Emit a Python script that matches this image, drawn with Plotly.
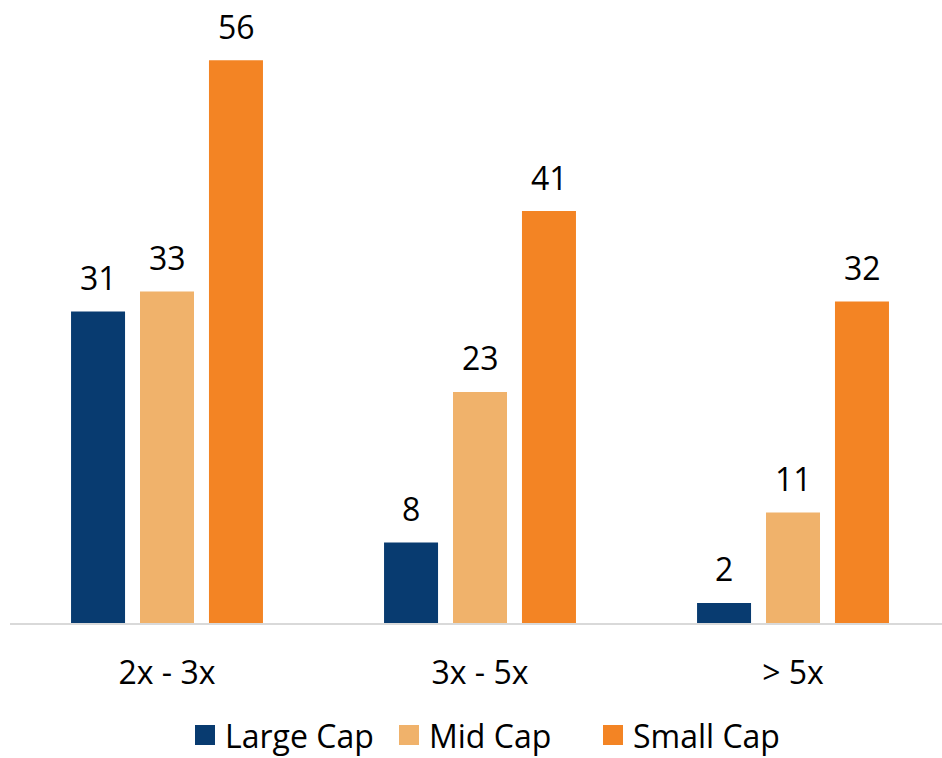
import plotly.graph_objects as go

categories = ["2x - 3x", "3x - 5x", "> 5x"]
series_names = ["Large Cap", "Mid Cap", "Small Cap"]
large_cap = [31, 8, 2]
mid_cap = [33, 23, 11]
small_cap = [56, 41, 32]
colors = ["#083B70", "#F0B26B", "#F38424"]

FONT = "Open Sans"
FS = 32
series_values = [large_cap, mid_cap, small_cap]

fig = go.Figure()
for name, vals, col in zip(series_names, series_values, colors):
    fig.add_trace(go.Bar(x=categories, y=vals, name=name, marker_color=col,
                         marker_line_width=0, showlegend=False))
    # legend entry with larger square symbol
    fig.add_trace(go.Scatter(x=[None], y=[None], mode="markers", name=name,
                             marker=dict(symbol="square", size=16, color=col,
                                         line=dict(color=col, width=4))))

shifts = [-69, 0, 69]
for vals, dx in zip(series_values, shifts):
    for c, v in zip(categories, vals):
        fig.add_annotation(x=c, y=v, xref="x", yref="y", text=str(v), showarrow=False,
                           xshift=dx, yshift=34, yanchor="middle",
                           font=dict(family=FONT, size=FS, color="#000000"))

fig.update_layout(
    width=942, height=758,
    margin=dict(l=10, r=0, t=0, b=135, autoexpand=False),
    paper_bgcolor="white", plot_bgcolor="white",
    barmode="group", bargap=0.339, bargroupgap=0.217,
    font=dict(family=FONT, size=FS, color="#000000"),
    showlegend=True,
    legend=dict(orientation="h", x=185 / 942, xanchor="left", xref="container",
                y=0.03, yanchor="middle", yref="container",
                font=dict(family=FONT, size=FS, color="#000000"),
                entrywidth=159, entrywidthmode="pixels",
                itemwidth=30, tracegroupgap=0),
)
fig.update_xaxes(range=[-0.5016, 2.476], showline=True, linecolor="#D9D9D9", linewidth=2,
                 ticks="outside", ticklen=21, tickcolor="rgba(0,0,0,0)",
                 tickfont=dict(family=FONT, size=FS, color="#000000"),
                 showgrid=False, zeroline=False)
fig.update_yaxes(range=[0, 62], visible=False, showgrid=False, zeroline=False)

fig.write_html("out.html")
